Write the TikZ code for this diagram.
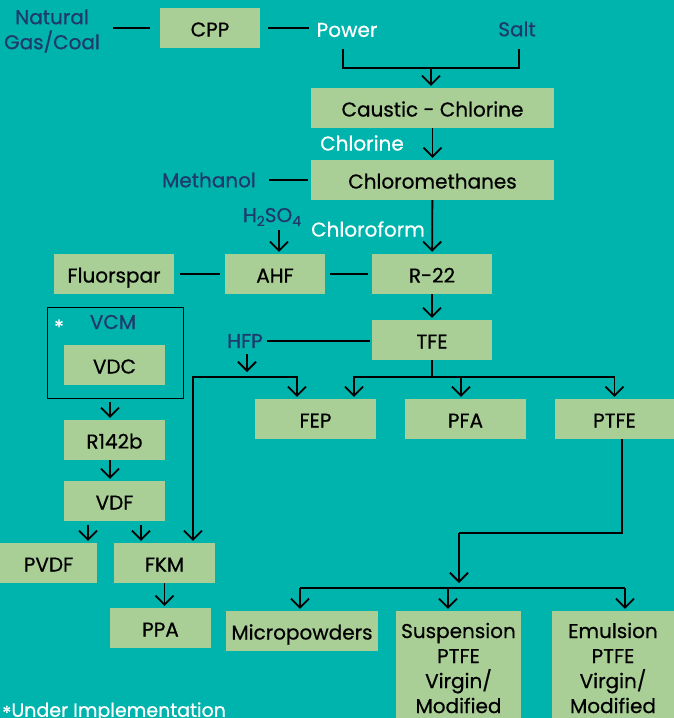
\documentclass[tikz,border=0pt]{standalone}
\usepackage{fontspec}
\setmainfont{Poppins}[FakeBold=0.6]
\usetikzlibrary{arrows.meta}

\definecolor{bgteal}{HTML}{00B4AE}
\definecolor{boxgreen}{HTML}{A9CE96}
\definecolor{inkblue}{HTML}{1F3A6B}

\tikzset{
  box/.style={fill=boxgreen, minimum height=40, inner sep=0pt, align=center},
  onebox/.style={box, text height=17pt, text depth=0pt},
  feed/.style={text=inkblue, inner sep=0pt, align=center},
  stream/.style={text=white, inner sep=0pt},
  link/.style={line width=1.8pt},
  flow/.style={link, -{Straight Barb[length=9pt,width=18pt]}, shorten >=2pt},
}

\begin{document}
\begin{tikzpicture}[x=1pt, y=-1pt, font=\fontsize{20}{25}\selectfont]  % 1 unit = 1 pixel of the chart

            % Background
            \fill[bgteal] (0, 0) rectangle (674, 718);
            \useasboundingbox (0, 0) rectangle (674, 718);
            \clip (0, 0) rectangle (674, 718);

            % Boxes
            \node[onebox, minimum width=100] (cpp) at (210, 28) {CPP};
            \node[onebox, minimum width=243] (caustic) at (432.5, 108) {Caustic - Chlorine};
            \node[onebox, minimum width=243] (chloromethanes) at (432.5, 180) {Chloromethanes};
            \node[onebox, minimum width=120] (fluorspar) at (114, 274) {Fluorspar};
            \node[onebox, minimum width=100] (ahf) at (275, 274) {AHF};
            \node[onebox, minimum width=120] (r22) at (432, 274) {R-22};
            \node[onebox, minimum width=120] (tfe) at (432, 340) {TFE};
            \node[onebox, minimum width=121] (fep) at (315.5, 419) {FEP};
            \node[onebox, minimum width=121] (pfa) at (465.5, 419) {PFA};
            \node[onebox, minimum width=119] (ptfe) at (614.5, 419) {PTFE};
            \node[draw, line width=1.3pt, minimum width=136, minimum height=91] (vcmbox) at (115.5, 353) {};
            \node[onebox, minimum width=101] (vdc) at (114.5, 365) {VDC};
            \node[onebox, minimum width=101] (r142b) at (114.5, 440) {R142b};
            \node[onebox, minimum width=101] (vdf) at (114.5, 501) {VDF};
            \node[onebox, minimum width=97] (pvdf) at (48.5, 563) {PVDF};
            \node[onebox, minimum width=101] (fkm) at (164.5, 563) {FKM};
            \node[onebox, minimum width=101] (ppa) at (160.5, 628) {PPA};
            \node[onebox, minimum width=152] (micro) at (302, 631) {Micropowders};
            \node[box, minimum width=125, minimum height=114] (susp) at (458.5, 668) {Suspension\\PTFE\\Virgin/\\Modified};
            \node[box, minimum width=122, minimum height=114] (emul) at (613, 668) {Emulsion\\PTFE\\Virgin/\\Modified};

            % Text
            \node[feed] (gas) at (52, 31) {Natural\\Gas/Coal};
            \node[stream] (power) at (347, 30) {Power};
            \node[feed] (salt) at (517, 29) {Salt};
            \node[stream] (chlorine) at (362, 143) {Chlorine};
            \node[feed] (methanol) at (209, 180) {Methanol};
            \node[feed] (h2so4) at (272, 217) {H\raisebox{-4pt}{\fontsize{14}{14}\selectfont 2}SO\raisebox{-4pt}{\fontsize{14}{14}\selectfont 4}};
            \node[stream] (chloroform) at (368, 229) {Chloroform};
            \node[feed] (hfp) at (245, 341) {HFP};
            \node[feed] (vcm) at (113, 322) {VCM};
            \node[stream] (star) at (59, 327) {*};
            \node[stream, anchor=west, font=\fontsize{19}{22}\selectfont] (note) at (2, 712) {\raisebox{-3pt}{*}Under Implementation};

            % Plain links
            \draw[link, shorten <=13pt, shorten >=10pt] (gas.east |- cpp) -- (cpp.west);
            \draw[link, shorten <=8pt, shorten >=7pt] (cpp.east) -- (power.west |- cpp);
            \draw[link, shorten <=13pt, shorten >=3pt] (methanol.east) -- (chloromethanes.west);
            \draw[link, shorten <=6pt, shorten >=5pt] (fluorspar.east) -- (ahf.west);
            \draw[link, shorten <=5pt, shorten >=4pt] (ahf.east) -- (r22.west);
            \draw[link, shorten <=4pt, shorten >=2pt] (hfp.east) -- (tfe.west |- hfp.east);

            % Power and salt
            \coordinate (pw) at (343, 49);
            \coordinate (st) at (519, 49);
            \coordinate (psjoin) at (431, 68);
            \draw[link] (pw) |- (psjoin) -| (st);
            \draw[flow] (psjoin) -- (psjoin |- caustic.north);

            % Main chain
            \draw[flow] (caustic) -- (chloromethanes);
            \draw[flow] (chloromethanes) -- (r22);
            \draw[flow, shorten <=4pt] (h2so4.south -| 279, 0) -- (ahf.north -| 279, 0);
            \draw[flow] (r22) -- (tfe);

            % HFP branch
            \coordinate (hfpjoin) at (247, 377);
            \draw[flow, shorten <=6pt, shorten >=5pt] (hfp.south -| hfpjoin) -- (hfpjoin);
            \draw[flow] (hfpjoin) -| ([xshift=28.5pt]fkm.north);
            \draw[flow] (hfpjoin) -| ([xshift=-18.5pt]fep.north);

            % TFE branch
            \coordinate (tfejoin) at (432, 377);
            \draw[link] (tfe) -- (tfejoin);
            \draw[flow] (tfejoin) -| ([xshift=38.5pt]fep.north);
            \draw[flow] (tfejoin) -| ([xshift=-4.5pt]pfa.north);
            \draw[flow] (tfejoin) -| (ptfe.north);

            % VDC chain
            \draw[flow, shorten <=3pt] (vcmbox.south -| 110, 0) -- (r142b.north -| 110, 0);
            \draw[flow] (r142b.south -| 110, 0) -- (vdf.north -| 110, 0);
            \draw[flow, shorten <=4pt] ([xshift=-26.5pt]vdf.south) -- ([xshift=39.5pt]pvdf.north);
            \draw[flow, shorten <=4pt] ([xshift=26.5pt]vdf.south) -- ([xshift=-23.5pt]fkm.north);
            \draw[flow] (fkm.south) -- ([xshift=4pt]ppa.north);

            % PTFE grades
            \coordinate (ptfebend) at (459, 533);
            \coordinate (ptfejoin) at (459, 588);
            \draw[link] ([xshift=7.5pt]ptfe.south) |- (ptfebend);
            \draw[flow, shorten >=5pt] (ptfebend) -- (ptfejoin);
            \draw[link] (ptfejoin -| 300, 0) -- (ptfejoin -| 625, 0);
            \draw[flow] (ptfejoin -| 300, 0) -- (micro.north -| 300, 0);
            \draw[flow] (ptfejoin -| 448, 0) -- (susp.north -| 448, 0);
            \draw[flow] (ptfejoin -| 625, 0) -- (emul.north -| 625, 0);

        \end{tikzpicture}
\end{document}
